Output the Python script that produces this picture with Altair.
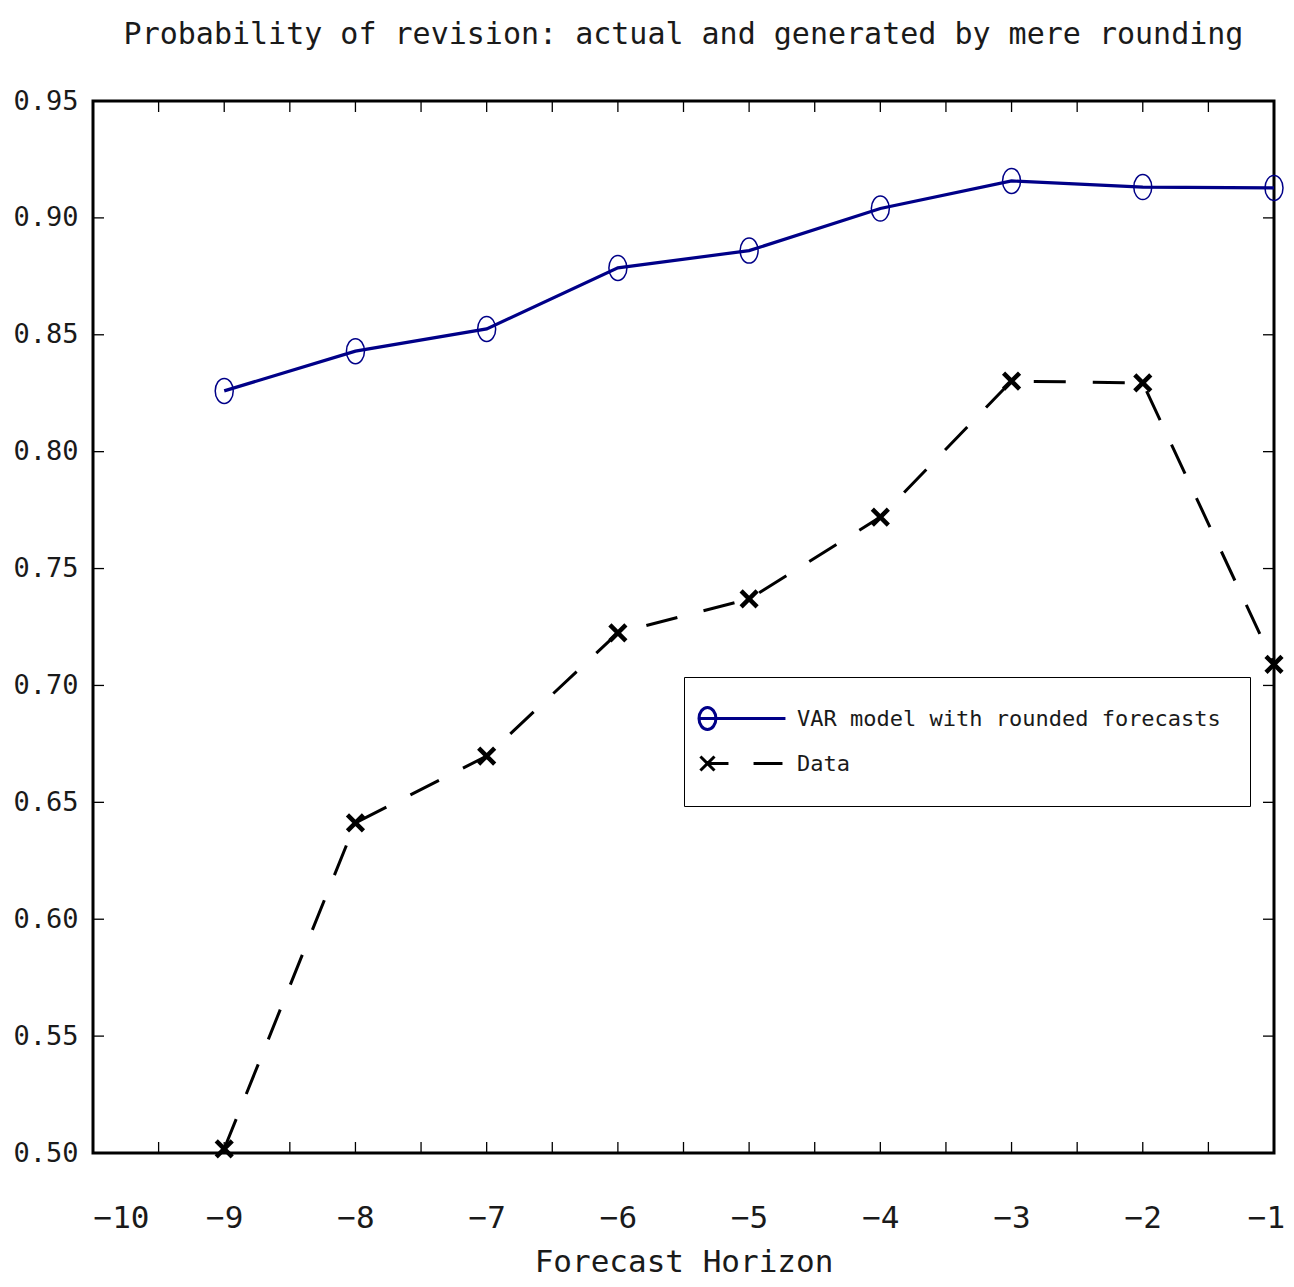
import altair as alt
import pandas as pd

# ---- data ----
horizon = [-9, -8, -7, -6, -5, -4, -3, -2, -1]
var_model = [0.826, 0.843, 0.8525, 0.8786, 0.886, 0.904, 0.9158, 0.9132, 0.9128]
data_vals = [0.5018, 0.6412, 0.6698, 0.7225, 0.737, 0.772, 0.8302, 0.8294, 0.709]

series_names = ["VAR model with rounded forecasts", "Data"]
series_colors = ["#000088", "#000000"]

x_label_values = [-10, -9, -8, -7, -6, -5, -4, -3, -2, -1]
x_tick_values = [-10, -9.5, -9, -8.5, -8, -7.5, -7, -6.5, -6, -5.5, -5, -4.5,
                 -4, -3.5, -3, -2.5, -2, -1.5, -1]
y_tick_values = [0.50, 0.55, 0.60, 0.65, 0.70, 0.75, 0.80, 0.85, 0.90, 0.95]

title_text = "Probability of revision: actual and generated by mere rounding"
x_title = "Forecast Horizon"

FONT = "DejaVu Sans Mono"
TXT = "#1a1a1a"
W, H = 1181, 1052

df_var = pd.DataFrame({"h": horizon, "v": var_model, "s": series_names[0]})
df_dat = pd.DataFrame({"h": horizon, "v": data_vals, "s": series_names[1]})
df_all = pd.concat([df_var, df_dat], ignore_index=True)
df_xt = pd.DataFrame({"t": x_tick_values})
df_yt = pd.DataFrame({"t": y_tick_values})

xscale = alt.Scale(domain=[-10, -1], nice=False, zero=False)
yscale = alt.Scale(domain=[0.5, 0.95], nice=False, zero=False)

xenc = alt.X("h:Q", scale=xscale, title=x_title,
             axis=alt.Axis(values=x_label_values,
                           labelExpr="datum.value == 0 ? '0' : '\u2212' + abs(datum.value)",
                           labelAlign=alt.expr("datum.value == -10 ? 'left' : 'center'"),
                           labelOffset=alt.expr("datum.value == -1 ? -8 : 0"),
                           labelFlush=False, labelOverlap=False, labelBound=False,
                           labelFont=FONT, labelFontSize=31, labelPadding=50,
                           labelColor=TXT, ticks=False, domain=False, grid=False,
                           titleFont=FONT, titleFontSize=31, titleFontWeight="normal",
                           titleColor=TXT, titlePadding=14))
yenc = alt.Y("v:Q", scale=yscale, title=None,
             axis=alt.Axis(values=y_tick_values, format=".2f",
                           labelFont=FONT, labelFontSize=27, labelPadding=15,
                           labelOverlap=False, labelBound=False,
                           labelColor=TXT, ticks=False, domain=False, grid=False))

line_var = alt.Chart(df_var).mark_line(color=series_colors[0], strokeWidth=3.2).encode(x=xenc, y=yenc)
line_dat = alt.Chart(df_dat).mark_line(color=series_colors[1], strokeWidth=3,
                                       strokeDash=[32, 27]).encode(x=xenc, y=yenc)

ellipse_path = "M-0.72,0 A0.72,1 0 1,1 0.72,0 A0.72,1 0 1,1 -0.72,0 Z"
x_path = "M-1,-1 L1,1 M-1,1 L1,-1"

pts_var = alt.Chart(df_var).mark_point(shape=ellipse_path, size=625, filled=False,
                                       color=series_colors[0], strokeWidth=1.5,
                                       opacity=1).encode(x=xenc, y=yenc)
pts_dat = alt.Chart(df_dat).mark_point(shape=x_path, size=256, filled=False,
                                       color=series_colors[1], strokeWidth=4.5,
                                       opacity=1).encode(x=xenc, y=yenc)

# legend symbols: marker + line sample, drawn as custom paths (unit = 11px)
legend_var_path = ("M-2.41,0 A0.77,1 0 1,1 -0.87,0 A0.77,1 0 1,1 -2.41,0 Z "
                   "M-2.41,0 L5.45,0")
legend_dat_path = ("M-2.28,-0.64 L-1.0,0.64 M-2.28,0.64 L-1.0,-0.64 "
                   "M-1.64,0 L0.27,0 M2.55,0 L5.18,0")

leg = alt.Legend(title=None, orient="none", legendX=591, legendY=576,
                 padding=29, rowPadding=14, labelOffset=59, labelLimit=800,
                 labelFont=FONT, labelFontSize=22, labelColor=TXT,
                 symbolSize=484, symbolStrokeWidth=3, symbolOpacity=1,
                 strokeColor="#000", fillColor="white")

carrier = alt.Chart(df_all).transform_filter("false").mark_point(filled=False, opacity=1).encode(
    x=xenc, y=yenc,
    color=alt.Color("s:N", scale=alt.Scale(domain=series_names, range=series_colors), legend=leg),
    shape=alt.Shape("s:N", scale=alt.Scale(domain=series_names,
                                           range=[legend_var_path, legend_dat_path]), legend=leg),
)

# inward ticks on all four sides
tick_left = alt.Chart(df_yt).mark_rule(color="black", strokeWidth=1.3).encode(
    y=alt.Y("t:Q", scale=yscale), x=alt.value(0), x2=alt.value(11))
tick_right = alt.Chart(df_yt).mark_rule(color="black", strokeWidth=1.3).encode(
    y=alt.Y("t:Q", scale=yscale), x=alt.value(W - 11), x2=alt.value(W))
tick_bottom = alt.Chart(df_xt).mark_rule(color="black", strokeWidth=1.3).encode(
    x=alt.X("t:Q", scale=xscale), y=alt.value(H - 11), y2=alt.value(H))
tick_top = alt.Chart(df_xt).mark_rule(color="black", strokeWidth=1.3).encode(
    x=alt.X("t:Q", scale=xscale), y=alt.value(0), y2=alt.value(11))

chart = alt.layer(
    line_var, line_dat, pts_var, pts_dat, carrier,
    tick_left, tick_right, tick_bottom, tick_top,
).properties(
    width=W, height=H,
    title=alt.TitleParams(title_text, font=FONT, fontSize=30, fontWeight="normal",
                          color=TXT, anchor="middle", offset=37),
    autosize=alt.AutoSizeParams(type="none"),
    padding={"left": 85, "top": 93, "right": 12, "bottom": 124},
).configure(
    background="white"
).configure_view(
    stroke="black", strokeWidth=3, fill="white"
)

chart.save("out.html", embed_options={"renderer": "svg", "actions": False})
